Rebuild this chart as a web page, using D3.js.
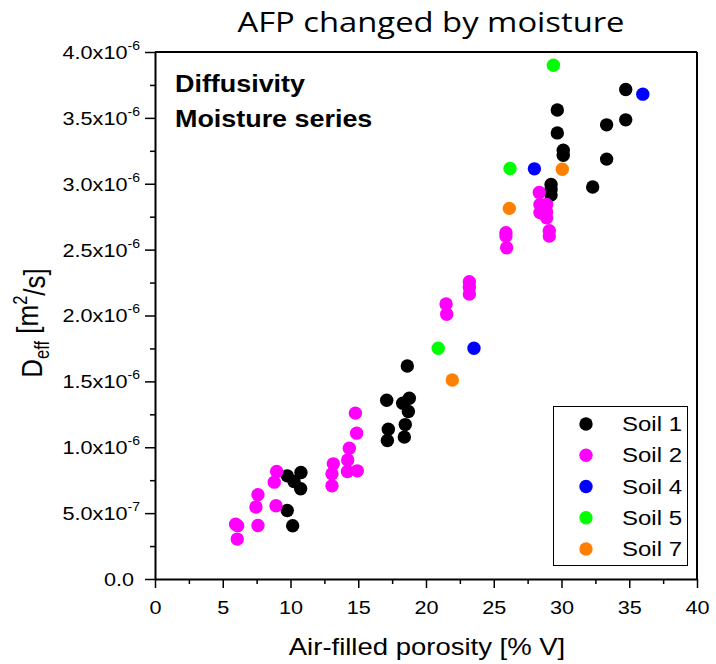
<!DOCTYPE html>
<html><head><meta charset="utf-8">
<script src="https://cdn.jsdelivr.net/npm/d3@7"></script>
<style>body{margin:0;background:#fff}</style>
</head><body><svg id="c" width="716" height="664"></svg>
<script>
// Air-filled porosity [% V] and Deff [m2/s] per soil
const soil1Afp  = [9.76, 10.77, 10.26, 10.75, 9.76, 10.16, 17.1, 18.28, 18.77, 18.7, 18.62, 17.22, 17.15, 18.47, 18.4, 29.23, 29.23, 29.23, 29.69, 29.69, 30.13, 30.13, 32.3, 33.33, 33.33, 34.74, 34.74];
const soil1Deff = [0.783e-6, 0.808e-6, 0.74e-6, 0.685e-6, 0.52e-6, 0.404e-6, 1.357e-6, 1.334e-6, 1.372e-6, 1.271e-6, 1.617e-6, 1.137e-6, 1.051e-6, 1.172e-6, 1.077e-6, 2.995e-6, 2.957e-6, 2.914e-6, 3.56e-6, 3.386e-6, 3.255e-6, 3.216e-6, 2.975e-6, 3.187e-6, 3.447e-6, 3.485e-6, 3.715e-6];
const soil2Afp  = [5.95, 6.1, 6.07, 7.6, 7.45, 7.6, 8.98, 8.8, 8.93, 13.16, 13.06, 13.06, 14.2, 14.93, 14.22, 14.34, 14.88, 14.79, 21.48, 21.53, 23.2, 23.2, 23.2, 25.9, 25.9, 25.95, 29.1, 29.1, 28.36, 28.41, 28.9, 28.41, 28.9, 28.9];
const soil2Deff = [0.415e-6, 0.405e-6, 0.303e-6, 0.639e-6, 0.546e-6, 0.406e-6, 0.816e-6, 0.735e-6, 0.556e-6, 0.874e-6, 0.798e-6, 0.707e-6, 0.816e-6, 0.821e-6, 0.904e-6, 0.993e-6, 1.107e-6, 1.259e-6, 2.087e-6, 2.009e-6, 2.256e-6, 2.214e-6, 2.163e-6, 2.628e-6, 2.603e-6, 2.514e-6, 2.643e-6, 2.603e-6, 2.934e-6, 2.843e-6, 2.843e-6, 2.782e-6, 2.787e-6, 2.742e-6];
const soil4Afp  = [36.0, 28.0, 23.54];
const soil4Deff = [3.68e-6, 3.113e-6, 1.751e-6];
const soil5Afp  = [29.4, 26.2, 20.9];
const soil5Deff = [3.90e-6, 3.116e-6, 1.751e-6];
const soil7Afp  = [30.06, 26.15, 21.94];
const soil7Deff = [3.11e-6, 2.813e-6, 1.511e-6];

const seriesNames = ["Soil 1", "Soil 2", "Soil 4", "Soil 5", "Soil 7"];
const seriesColors = ["#000000", "#ff00ff", "#0000ff", "#00ff00", "#ff8000"];
const xTicks = [0, 5, 10, 15, 20, 25, 30, 35, 40];
const yTicks = [0, 0.5e-6, 1.0e-6, 1.5e-6, 2.0e-6, 2.5e-6, 3.0e-6, 3.5e-6, 4.0e-6];

const series = [
  {name: seriesNames[0], color: seriesColors[0], xs: soil1Afp, ys: soil1Deff},
  {name: seriesNames[1], color: seriesColors[1], xs: soil2Afp, ys: soil2Deff},
  {name: seriesNames[2], color: seriesColors[2], xs: soil4Afp, ys: soil4Deff},
  {name: seriesNames[3], color: seriesColors[3], xs: soil5Afp, ys: soil5Deff},
  {name: seriesNames[4], color: seriesColors[4], xs: soil7Afp, ys: soil7Deff}
];

const svg = d3.select("#c");
const L = 155, R = 697, T = 52, B = 579;
const SX = 1.17; // horizontal stretch of the reference's lettering
const x = d3.scaleLinear().domain([0, 40]).range([L, R]);
const y = d3.scaleLinear().domain([0, 4e-6]).range([B, T]);
const axisFont = "'Liberation Sans', Arial, sans-serif";

function stretchedText(parent, px, py, anchor, size, family, extra) {
  const g = parent.append("g").attr("transform", `translate(${px},${py}) scale(${SX},1)${extra || ""}`);
  return g.append("text").attr("text-anchor", anchor).attr("font-size", size)
    .attr("font-family", family).attr("fill", "#000");
}

// Minor ticks
const xMinor = d3.range(2.5, 40, 5);
const yMinor = d3.range(0.25e-6, 4e-6, 0.5e-6);
svg.append("g").attr("transform", `translate(0,${B})`)
  .call(d3.axisBottom(x).tickValues(xMinor).tickSize(5).tickFormat(""))
  .call(g => g.select(".domain").remove())
  .selectAll("line").attr("stroke", "#000").attr("stroke-width", 1.5);
svg.append("g").attr("transform", `translate(${L},0)`)
  .call(d3.axisLeft(y).tickValues(yMinor).tickSize(5).tickFormat(""))
  .call(g => g.select(".domain").remove())
  .selectAll("line").attr("stroke", "#000").attr("stroke-width", 1.5);

// Major x axis
const gx = svg.append("g").attr("transform", `translate(0,${B})`)
  .call(d3.axisBottom(x).tickValues(xTicks).tickSize(9).tickSizeOuter(0).tickFormat(""));
gx.select(".domain").attr("stroke", "#000").attr("stroke-width", 2);
gx.selectAll(".tick line").attr("stroke", "#000").attr("stroke-width", 1.5);
gx.selectAll(".tick").each(function(v) {
  stretchedText(d3.select(this), 0, 35, "middle", 18.5, axisFont).text(String(v));
});

// Major y axis
const gy = svg.append("g").attr("transform", `translate(${L},0)`)
  .call(d3.axisLeft(y).tickValues(yTicks).tickSize(10).tickSizeOuter(0).tickFormat(""));
gy.select(".domain").attr("stroke", "#000").attr("stroke-width", 2);
gy.selectAll(".tick line").attr("stroke", "#000").attr("stroke-width", 1.5);
gy.selectAll(".tick").each(function(v) {
  const t = stretchedText(d3.select(this), -15, 0, "end", 18.5, axisFont).attr("dy", "0.35em");
  if (v === 0) { t.attr("dx", -5).text("0.0"); return; }
  const e = Math.floor(Math.log10(v) + 1e-9);
  const m = v / Math.pow(10, e);
  t.append("tspan").text(m.toFixed(1) + "x10");
  t.append("tspan").attr("font-size", 12).attr("dy", "-0.75em").text(String(e));
});

// Frame top/right
svg.append("line").attr("x1", L).attr("x2", R).attr("y1", T).attr("y2", T).attr("stroke", "#000").attr("stroke-width", 2);
svg.append("line").attr("x1", R).attr("x2", R).attr("y1", T).attr("y2", B).attr("stroke", "#000").attr("stroke-width", 2);

// Points
series.forEach(s => {
  svg.append("g").selectAll("circle")
    .data(s.xs.map((v, i) => [v, s.ys[i]]))
    .join("circle")
    .attr("cx", d => x(d[0])).attr("cy", d => y(d[1]))
    .attr("r", 6.7).attr("fill", s.color);
});

// Title
stretchedText(svg, 431, 31.5, "middle", 28, "'Open Sans', sans-serif").text("AFP changed by moisture");

// Annotation
stretchedText(svg, 175, 91.5, "start", 23, axisFont).attr("font-weight", "bold").text("Diffusivity");
stretchedText(svg, 175, 126.5, "start", 23, axisFont).attr("font-weight", "bold").text("Moisture series");

// X label
stretchedText(svg, 427, 655, "middle", 23.5, axisFont).text("Air-filled porosity [% V]");

// Y label
const yl = stretchedText(svg, 42, 323, "middle", 26, axisFont, " rotate(-90)");
yl.append("tspan").text("D");
yl.append("tspan").attr("font-size", 16.5).attr("dy", "0.35em").text("eff");
yl.append("tspan").attr("dy", "-0.35em").text(" [m");
yl.append("tspan").attr("font-size", 16.5).attr("dy", "-0.6em").text("2");
yl.append("tspan").attr("dy", "0.6em").text("/s]");

// Legend
const lg = svg.append("g");
lg.append("rect").attr("x", 553.5).attr("y", 406.5).attr("width", 134).attr("height", 159)
  .attr("fill", "#fff").attr("stroke", "#000").attr("stroke-width", 1);
series.forEach((s, i) => {
  const cy = 424 + i * 31.25;
  lg.append("circle").attr("cx", 586).attr("cy", cy).attr("r", 6.7).attr("fill", s.color);
  stretchedText(lg, 622, cy, "start", 20.5, axisFont).attr("dy", "0.35em").text(s.name);
});
</script>
</body></html>
